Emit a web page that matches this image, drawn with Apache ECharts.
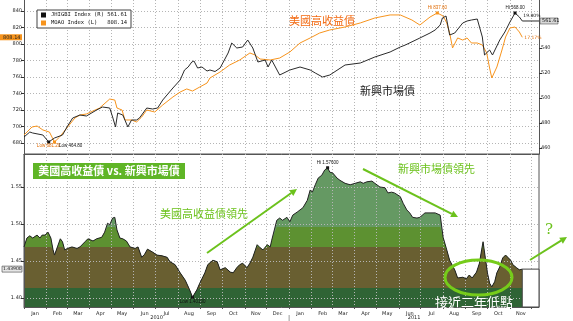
<!DOCTYPE html>
<html><head><meta charset="utf-8">
<script src="https://cdn.jsdelivr.net/npm/echarts@6/dist/echarts.min.js"></script>
<style>html,body{margin:0;padding:0;background:#fff}#c{width:573px;height:321px}</style>
</head><body><div id="c"></div>
<script>
// ---------- data ----------
const monthTicks = ['2010-01-01','2010-02-01','2010-03-01','2010-04-01','2010-05-01','2010-06-01','2010-07-01','2010-08-01','2010-09-01','2010-10-01','2010-11-01','2010-12-01',
  '2011-01-01','2011-02-01','2011-03-01','2011-04-01','2011-05-01','2011-06-01','2011-07-01','2011-08-01','2011-09-01','2011-10-01','2011-11-01','2011-12-01'];
const monthLabelTicks = monthTicks.slice(0, 23);
const monthNames = ['Jan','Feb','Mar','Apr','May','Jun','Jul','Aug','Sep','Oct','Nov','Dec'];
const yearLabels = ['2010','2011'];
const leftTicks = [680,700,720,740,760,780,800,820,840];
const rightTicks = [460,480,500,520,540];
const ratioTicks = [1.40,1.45,1.50,1.55];
const bandLevels = [1.4135,1.469,1.496];

const moaoData = [['2010-01-01',689.7],['2010-01-12',699.4],['2010-01-19',700.6],['2010-01-27',695.8],['2010-02-05',693.3],['2010-02-12',681.2],['2010-02-19',687.3],['2010-03-01',698.2],['2010-03-12',710.3],['2010-03-19',713.9],['2010-03-28',715.2],['2010-04-15',722.4],['2010-04-29',733.3],['2010-05-06',732.1],['2010-05-09',722.4],['2010-05-16',720.0],['2010-05-20',707.9],['2010-05-29',707.9],['2010-06-05',705.5],['2010-06-12',711.5],['2010-06-19',720.0],['2010-06-30',717.6],['2010-07-11',726.1],['2010-07-25',735.8],['2010-08-04',741.8],['2010-08-13',745.5],['2010-08-21',743.0],['2010-08-31',747.9],['2010-09-10',752.7],['2010-09-14',758.8],['2010-09-28',766.1],['2010-10-11',774.5],['2010-10-25',780.6],['2010-11-08',789.1],['2010-11-15',786.7],['2010-11-22',781.8],['2010-12-06',780.6],['2010-12-19',783.0],['2011-01-02',790.3],['2011-01-16',801.2],['2011-01-30',807.3],['2011-02-12',813.3],['2011-02-26',817.0],['2011-03-19',820.6],['2011-04-09',825.5],['2011-04-29',831.5],['2011-05-20',835.2],['2011-06-03',835.2],['2011-06-19',829.1],['2011-06-30',823.0],['2011-07-14',832.7],['2011-07-24',837.6],['2011-08-01',833.9],['2011-08-06',825.5],['2011-08-10',813.3],['2011-08-14',795.2],['2011-08-21',807.3],['2011-08-28',804.8],['2011-09-03',807.3],['2011-09-09',801.2],['2011-09-17',801.2],['2011-09-24',798.8],['2011-09-30',789.1],['2011-10-04',770.9],['2011-10-07',758.8],['2011-10-14',772.1],['2011-10-21',792.7],['2011-10-26',808.5],['2011-11-01',819.4],['2011-11-08',820.6],['2011-11-14',814.5],['2011-11-18',808.14]];

const jhigbiData = [['2010-01-01',468.8],['2010-01-09',472.8],['2010-01-13',472.0],['2010-01-27',470.4],['2010-02-04',464.8],['2010-02-12',468.0],['2010-02-23',470.4],['2010-03-02',477.6],['2010-03-09',484.0],['2010-03-19',486.4],['2010-03-28',485.6],['2010-04-11',490.4],['2010-04-19',492.8],['2010-04-29',492.0],['2010-05-03',484.8],['2010-05-07',476.8],['2010-05-10',488.0],['2010-05-17',486.4],['2010-05-24',476.8],['2010-05-29',482.4],['2010-06-05',482.4],['2010-06-09',484.0],['2010-06-19',492.0],['2010-06-27',491.2],['2010-07-04',492.0],['2010-07-11',498.4],['2010-07-25',508.0],['2010-08-04',514.4],['2010-08-10',522.4],['2010-08-15',524.8],['2010-08-20',528.8],['2010-08-23',529.6],['2010-08-28',524.0],['2010-09-03',524.8],['2010-09-10',521.6],['2010-09-14',522.4],['2010-09-21',521.2],['2010-09-28',524.0],['2010-10-09',536.0],['2010-10-14',544.0],['2010-10-21',540.0],['2010-10-29',540.8],['2010-11-05',546.4],['2010-11-12',540.0],['2010-11-19',528.8],['2010-11-29',530.4],['2010-12-03',524.8],['2010-12-08',530.4],['2010-12-19',518.4],['2011-01-02',522.4],['2011-01-16',524.8],['2011-01-30',522.4],['2011-02-06',520.0],['2011-02-16',516.8],['2011-02-26',518.4],['2011-03-19',526.4],['2011-04-09',528.0],['2011-04-29',532.8],['2011-05-20',536.8],['2011-06-03',540.8],['2011-06-10',542.4],['2011-06-30',548.0],['2011-07-14',552.0],['2011-07-21',554.4],['2011-07-28',558.4],['2011-07-31',564.0],['2011-08-05',565.6],['2011-08-10',550.4],['2011-08-17',552.0],['2011-08-28',560.0],['2011-09-03',561.6],['2011-09-09',562.4],['2011-09-17',563.2],['2011-09-24',548.8],['2011-09-27',534.4],['2011-10-04',538.4],['2011-10-08',534.4],['2011-10-18',546.4],['2011-10-25',552.8],['2011-11-01',560.8],['2011-11-08',568.0],['2011-11-14',564.8],['2011-11-18',561.61]];

const ratioData = [['2010-01-01',1.469],['2010-01-05',1.481],['2010-01-09',1.484],['2010-01-13',1.481],['2010-01-19',1.485],['2010-01-23',1.481],['2010-01-26',1.485],['2010-01-30',1.485],['2010-02-03',1.489],['2010-02-07',1.481],['2010-02-10',1.465],['2010-02-12',1.458],['2010-02-16',1.469],['2010-02-20',1.480],['2010-02-23',1.476],['2010-02-26',1.465],['2010-03-02',1.467],['2010-03-08',1.469],['2010-03-15',1.467],['2010-03-19',1.469],['2010-03-26',1.476],['2010-03-30',1.480],['2010-04-06',1.477],['2010-04-11',1.480],['2010-04-18',1.482],['2010-04-22',1.489],['2010-04-26',1.501],['2010-04-29',1.499],['2010-05-03',1.508],['2010-05-06',1.509],['2010-05-09',1.492],['2010-05-13',1.481],['2010-05-17',1.480],['2010-05-22',1.477],['2010-05-27',1.469],['2010-06-03',1.467],['2010-06-07',1.469],['2010-06-12',1.455],['2010-06-16',1.459],['2010-06-20',1.466],['2010-06-27',1.462],['2010-07-03',1.458],['2010-07-10',1.457],['2010-07-17',1.455],['2010-07-21',1.449],['2010-07-28',1.445],['2010-08-04',1.434],['2010-08-11',1.424],['2010-08-17',1.411],['2010-08-21',1.401],['2010-08-27',1.411],['2010-08-31',1.420],['2010-09-07',1.434],['2010-09-11',1.445],['2010-09-18',1.451],['2010-09-24',1.449],['2010-09-28',1.438],['2010-10-05',1.441],['2010-10-12',1.435],['2010-10-16',1.434],['2010-10-21',1.441],['2010-10-25',1.445],['2010-10-29',1.447],['2010-11-04',1.441],['2010-11-08',1.447],['2010-11-12',1.455],['2010-11-18',1.472],['2010-11-22',1.468],['2010-11-26',1.465],['2010-12-02',1.472],['2010-12-06',1.469],['2010-12-08',1.478],['2010-12-15',1.505],['2010-12-19',1.508],['2010-12-23',1.505],['2010-12-29',1.509],['2011-01-02',1.503],['2011-01-06',1.512],['2011-01-12',1.516],['2011-01-16',1.519],['2011-01-20',1.522],['2011-01-26',1.532],['2011-01-30',1.546],['2011-02-02',1.543],['2011-02-06',1.553],['2011-02-10',1.562],['2011-02-15',1.566],['2011-02-19',1.573],['2011-02-23',1.576],['2011-02-26',1.570],['2011-03-02',1.569],['2011-03-08',1.562],['2011-03-12',1.559],['2011-03-19',1.555],['2011-03-26',1.553],['2011-04-02',1.555],['2011-04-09',1.557],['2011-04-13',1.555],['2011-04-18',1.557],['2011-04-25',1.558],['2011-04-29',1.555],['2011-05-06',1.550],['2011-05-13',1.549],['2011-05-17',1.542],['2011-05-22',1.543],['2011-05-26',1.542],['2011-06-03',1.537],['2011-06-07',1.528],['2011-06-12',1.519],['2011-06-16',1.515],['2011-06-20',1.509],['2011-06-26',1.508],['2011-06-30',1.509],['2011-07-07',1.515],['2011-07-14',1.515],['2011-07-21',1.515],['2011-07-28',1.512],['2011-08-01',1.482],['2011-08-06',1.465],['2011-08-10',1.451],['2011-08-17',1.438],['2011-08-21',1.427],['2011-08-28',1.428],['2011-09-02',1.426],['2011-09-06',1.431],['2011-09-10',1.427],['2011-09-16',1.435],['2011-09-20',1.447],['2011-09-23',1.465],['2011-09-25',1.476],['2011-09-28',1.455],['2011-10-01',1.434],['2011-10-04',1.420],['2011-10-07',1.415],['2011-10-11',1.422],['2011-10-14',1.434],['2011-10-18',1.442],['2011-10-22',1.454],['2011-10-26',1.458],['2011-10-29',1.455],['2011-11-02',1.451],['2011-11-05',1.445],['2011-11-10',1.441],['2011-11-14',1.438],['2011-11-18',1.439]];

// ---------- helpers / layout ----------
const ts = s => new Date(s + 'T00:00:00').getTime();
const toXY = d => d.map(p => [ts(p[0]), p[1]]);
const X_MIN = ts('2010-01-01'), X_MAX = ts('2011-12-11');
const LEFT_RANGE = [666.7, 853.3], RIGHT_RANGE = [455.2, 578.4], RATIO_RANGE = [1.3878, 1.5946];
const ORANGE = '#f7941d', BLACK = '#2b2b2b', GRIDC = '#b5b5b5', GREEN = '#6cc21c';
const bandColors = ['#2f6435', '#695f31', '#5d9131', '#659963']; // dark, brown, green, sage
const TINY = {fontSize: 5, fontFamily: 'DejaVu Sans', color: '#222'};
const dotted = {show: true, lineStyle: {color: GRIDC, type: [1, 2], width: 1}};
const monthTickVals = monthTicks.map(ts);
const monthLabelVals = monthLabelTicks.map(ts);

const lastOf = d => d[d.length - 1];
const clipped = lvl => toXY(ratioData).map(p => [p[0], Math.min(p[1], lvl)]);
const pct = d => ((lastOf(d)[1] / d[0][1] - 1) * 100).toFixed(2) + '%';

const chart = echarts.init(document.getElementById('c'), null, {renderer: 'canvas'});

const areaSeries = (data, color, name) => ({
  type: 'line', name, xAxisIndex: 1, yAxisIndex: 2, data, symbol: 'none', silent: true,
  lineStyle: {width: 0}, areaStyle: {color, opacity: 1, origin: 'start'}, z: 2
});
const xAxisBase = {type: 'value', min: X_MIN, max: X_MAX, scale: true};

const option = {
  animation: false,
  backgroundColor: '#fff',
  grid: [
    {left: 24, right: 34, top: 0, height: 154},
    {left: 24, right: 34, top: 154, height: 153, show: true, borderColor: '#555', borderWidth: 1, backgroundColor: 'transparent'}
  ],
  legend: {
    data: ['JHIGBI Index (R)', 'MOAO Index (L)'], left: 37, top: 10, orient: 'vertical',
    backgroundColor: '#fff', borderColor: '#444', borderWidth: 1, padding: [2, 4, 2, 4], itemGap: 2,
    itemWidth: 5, itemHeight: 5, icon: 'rect', z: 20,
    formatter: n => {
      const v = n.startsWith('JHIGBI') ? lastOf(jhigbiData)[1] : lastOf(moaoData)[1];
      return '{n|' + n + '}{v|' + v.toFixed(2) + '}';
    },
    textStyle: {rich: {n: {fontSize: 5.5, fontFamily: 'DejaVu Sans Mono', width: 58, color: '#111'}, v: {fontSize: 5.5, fontFamily: 'DejaVu Sans Mono', width: 18, align: 'right', color: '#111'}}}
  },
  xAxis: [
    {...xAxisBase, gridIndex: 0,
     axisLine: {show: true, lineStyle: {color: '#555'}}, axisTick: {show: false, customValues: monthTickVals},
     axisLabel: {show: false, customValues: monthTickVals}, splitLine: dotted},
    {...xAxisBase, gridIndex: 1, z: 5,
     axisLine: {show: true, lineStyle: {color: '#555'}},
     axisTick: {show: true, length: 2, customValues: monthTickVals, lineStyle: {color: '#555'}},
     axisLabel: {customValues: monthLabelVals, ...TINY, margin: 4, padding: [0, 0, 0, 22], align: 'center',
       formatter: v => monthNames[new Date(v).getMonth()]},
     splitLine: dotted}
  ],
  yAxis: [
    {type: 'value', gridIndex: 0, position: 'left', min: LEFT_RANGE[0], max: LEFT_RANGE[1],
     axisLine: {show: true, lineStyle: {color: '#555'}},
     axisTick: {show: true, length: 3, customValues: leftTicks, lineStyle: {color: '#333'}},
     axisLabel: {customValues: leftTicks, ...TINY, margin: 2}, splitLine: dotted},
    {type: 'value', gridIndex: 0, position: 'right', min: RIGHT_RANGE[0], max: RIGHT_RANGE[1],
     axisLine: {show: true, lineStyle: {color: '#555'}},
     axisTick: {show: true, length: 3, customValues: rightTicks, lineStyle: {color: '#333'}},
     axisLabel: {customValues: rightTicks, ...TINY, margin: 2}, splitLine: {show: false}},
    {type: 'value', gridIndex: 1, min: RATIO_RANGE[0], max: RATIO_RANGE[1], z: 5,
     axisLine: {show: true, lineStyle: {color: '#555'}},
     axisTick: {show: true, length: 3, customValues: ratioTicks, lineStyle: {color: '#333'}},
     axisLabel: {customValues: ratioTicks, ...TINY, margin: 2, formatter: v => v.toFixed(2)}, splitLine: dotted}
  ],
  series: [
    {type: 'line', name: 'MOAO Index (L)', xAxisIndex: 0, yAxisIndex: 0, data: toXY(moaoData), symbol: 'none',
     color: ORANGE, lineStyle: {width: 1, color: ORANGE}, z: 3,
     markPoint: {symbol: 'rect', symbolSize: 3, itemStyle: {color: ORANGE},
       data: [
         {type: 'max', label: {show: true, position: 'top', distance: 1, formatter: p => 'Hi ' + p.value.toFixed(2), fontSize: 4.5, color: '#e06a00'}},
         {type: 'min', label: {show: true, position: 'bottom', distance: 0, offset: [-6, 0], formatter: p => 'Low ' + p.value.toFixed(2), fontSize: 4.5, color: '#e06a00'}}
       ]}},
    {type: 'line', name: 'JHIGBI Index (R)', xAxisIndex: 0, yAxisIndex: 1, data: toXY(jhigbiData), symbol: 'none',
     color: '#111', lineStyle: {width: 1, color: BLACK}, z: 4,
     markPoint: {symbol: 'rect', symbolSize: 3, itemStyle: {color: '#111'},
       data: [
         {type: 'max', label: {show: true, position: 'top', distance: 1, formatter: p => 'Hi ' + p.value.toFixed(2), fontSize: 4.5, color: '#111'}},
         {type: 'min', label: {show: true, position: 'bottom', distance: 0, offset: [22, 0], formatter: p => 'Low ' + p.value.toFixed(2), fontSize: 4.5, color: '#111'}}
       ]}},
    areaSeries(toXY(ratioData), bandColors[3], 'r3'),
    areaSeries(clipped(bandLevels[2]), bandColors[2], 'r2'),
    areaSeries(clipped(bandLevels[1]), bandColors[1], 'r1'),
    areaSeries(clipped(bandLevels[0]), bandColors[0], 'r0'),
    {type: 'line', name: 'ratio', xAxisIndex: 1, yAxisIndex: 2, data: toXY(ratioData), symbol: 'none',
     lineStyle: {width: 1, color: '#222'}, z: 6,
     markPoint: {symbol: 'rect', symbolSize: 3, itemStyle: {color: '#111'},
       data: [
         {type: 'max', label: {show: true, position: 'top', distance: 1, formatter: p => 'Hi ' + p.value.toFixed(5), fontSize: 4.5, color: '#111'}},
         {type: 'min', label: {show: true, position: 'bottom', distance: 1, formatter: p => 'Low ' + p.value.toFixed(5), fontSize: 4.5, color: '#111'}}
       ]}}
  ]
};
chart.setOption(option);

// ---------- annotations ----------
function arrow(x1, y1, x2, y2, color) {
  const a = Math.atan2(y2 - y1, x2 - x1), L = 7, W = 3.5;
  const bx = x2 - L * Math.cos(a), by = y2 - L * Math.sin(a);
  return [
    {type: 'line', z: 100, shape: {x1, y1, x2: bx, y2: by}, style: {stroke: color, lineWidth: 2}},
    {type: 'polygon', z: 100, shape: {points: [[x2, y2], [bx + W * Math.sin(a), by - W * Math.cos(a)], [bx - W * Math.sin(a), by + W * Math.cos(a)]]}, style: {fill: color}}
  ];
}
const px = (axis, v) => chart.convertToPixel(axis, v);
const lastO = lastOf(moaoData), lastB = lastOf(jhigbiData), lastR = lastOf(ratioData);
const xEnd = px({xAxisIndex: 0}, ts(lastO[0]));
const xRight = px({xAxisIndex: 1}, X_MAX);
const x2011 = px({xAxisIndex: 1}, ts('2011-01-01'));
const x2010 = px({xAxisIndex: 1}, X_MIN);
const xLastR = px({xAxisIndex: 1}, ts(lastR[0]));
const yO = px({yAxisIndex: 0}, lastO[1]);
const yB = px({yAxisIndex: 1}, lastB[1]);
const yR = px({yAxisIndex: 2}, lastR[1]);
const yBottom = px({yAxisIndex: 2}, RATIO_RANGE[0]);
const cjk = 'Noto Sans CJK TC';

const graphics = [
  {type: 'rect', z: 100, shape: {x: 0, y: yO - 3, width: 22, height: 6}, style: {fill: ORANGE}},
  {type: 'text', z: 101, x: 3, y: yO, style: {text: lastO[1].toFixed(2), fontSize: 5, fontFamily: 'DejaVu Sans', fill: '#222', verticalAlign: 'middle'}},
  {type: 'line', z: 99, shape: {x1: xEnd, y1: yB, x2: xRight, y2: yB}, style: {stroke: BLACK, lineWidth: 1}},
  {type: 'rect', z: 100, shape: {x: xRight + 1, y: yB - 3, width: 18, height: 6}, style: {fill: '#d8d8d8', stroke: '#333', lineWidth: 0.5}},
  {type: 'text', z: 101, x: xRight + 3, y: yB, style: {text: lastB[1].toFixed(2), fontSize: 5, fontFamily: 'DejaVu Sans', fill: '#111', verticalAlign: 'middle'}},
  {type: 'text', z: 101, x: xEnd + 1, y: yB - 5, style: {text: pct(jhigbiData), fontSize: 4.5, fontFamily: 'DejaVu Sans', fill: '#111', verticalAlign: 'middle'}},
  {type: 'text', z: 101, x: xEnd + 2, y: yO + 1, style: {text: pct(moaoData), fontSize: 4.5, fontFamily: 'DejaVu Sans', fill: '#e06a00', verticalAlign: 'middle'}},
  {type: 'text', z: 100, x: 289, y: 21, style: {text: '美國高收益債', fontSize: 11, fontFamily: cjk, fill: '#f26a12', verticalAlign: 'middle'}},
  {type: 'text', z: 100, x: 360, y: 91, style: {text: '新興市場債', fontSize: 11, fontFamily: cjk, fill: '#1a1a1a', verticalAlign: 'middle'}},
  {type: 'rect', z: 100, shape: {x: 33, y: 163, width: 152, height: 16}, style: {fill: '#5fb526'}},
  {type: 'text', z: 101, x: 109, y: 171, style: {text: '美國高收益債 vs. 新興市場債', fontSize: 11, fontWeight: 'bold', fontFamily: cjk, fill: '#fff', align: 'center', verticalAlign: 'middle'}},
  {type: 'text', z: 100, x: 160, y: 214, style: {text: '美國高收益債領先', fontSize: 11, fontFamily: cjk, fill: GREEN, verticalAlign: 'middle'}},
  {type: 'text', z: 100, x: 398, y: 169, style: {text: '新興市場債領先', fontSize: 11, fontFamily: cjk, fill: GREEN, verticalAlign: 'middle'}},
  ...arrow(207, 253, 297, 189, GREEN),
  ...arrow(363, 169, 458, 217, GREEN),
  ...arrow(530, 260, 567, 237, GREEN),
  {type: 'text', z: 100, x: 549, y: 230, style: {text: '?', fontSize: 15, fontFamily: 'DejaVu Serif', fill: GREEN, align: 'center', verticalAlign: 'middle'}},
  {type: 'ellipse', z: 100, shape: {cx: 478.5, cy: 277.5, rx: 33.5, ry: 17.5}, style: {fill: 'none', stroke: '#76cc1a', lineWidth: 3}},
  {type: 'text', z: 100, x: 474, y: 302, style: {text: '接近二年低點', fontSize: 13, fontFamily: cjk, fill: '#fff', align: 'center', verticalAlign: 'middle'}},
  {type: 'rect', z: 7, shape: {x: xLastR, y: yR, width: xRight - xLastR, height: yBottom - yR}, style: {fill: '#fff', stroke: '#444', lineWidth: 1}},
  {type: 'rect', z: 100, shape: {x: 2, y: yR - 3, width: 20, height: 6}, style: {fill: '#e6e6e6', stroke: '#222', lineWidth: 0.5}},
  {type: 'text', z: 101, x: 3, y: yR, style: {text: lastR[1].toFixed(5), fontSize: 4.5, fontFamily: 'DejaVu Sans', fill: '#111', verticalAlign: 'middle'}},
  {type: 'text', z: 100, x: (x2010 + x2011) / 2, y: 318, style: {text: yearLabels[0], fontSize: 5, fontFamily: 'DejaVu Sans', fill: '#222', align: 'center', verticalAlign: 'middle'}},
  {type: 'text', z: 100, x: (x2011 + xRight) / 2, y: 318, style: {text: yearLabels[1], fontSize: 5, fontFamily: 'DejaVu Sans', fill: '#222', align: 'center', verticalAlign: 'middle'}},
  {type: 'line', z: 100, shape: {x1: x2011, y1: 315, x2: x2011, y2: 321}, style: {stroke: '#999', lineWidth: 1}}
];
chart.setOption({graphic: graphics});
</script></body></html>
